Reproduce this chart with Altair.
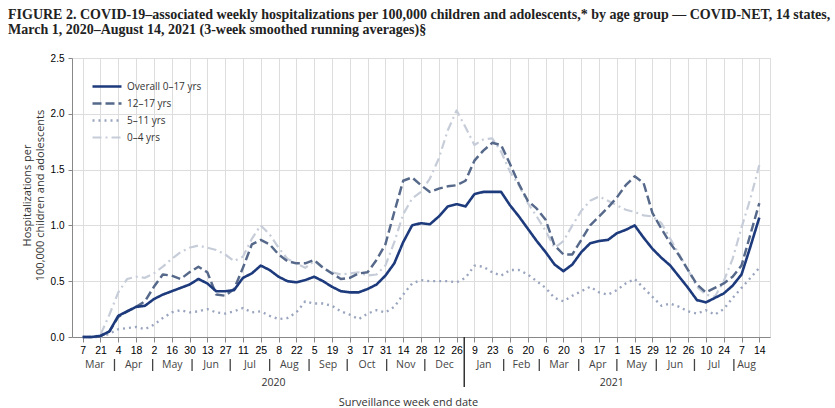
import altair as alt
import pandas as pd

# Biweekly tick labels (week-ending day of month), 7 Mar 2020 ... 14 Aug 2021
tick_labels = ["7", "21", "4", "18", "2", "16", "30", "13", "27", "11", "25", "8", "22",
               "5", "19", "3", "17", "31", "14", "28", "12", "26",
               "9", "23", "6", "20", "6", "20", "3", "17", "1", "15", "29", "12", "26",
               "10", "24", "7", "14"]

# Weekly rates per 100,000 (3-week smoothed), one value per week
overall = [0.00, 0.00, 0.01, 0.05, 0.19, 0.23, 0.27, 0.28, 0.34, 0.38,
           0.41, 0.44, 0.47, 0.52, 0.48, 0.41, 0.41, 0.42, 0.53, 0.57,
           0.64, 0.60, 0.54, 0.50, 0.49, 0.51, 0.54, 0.50, 0.45, 0.41,
           0.40, 0.40, 0.43, 0.47, 0.55, 0.66, 0.85, 1.00, 1.02, 1.01,
           1.08, 1.17, 1.19, 1.17, 1.28, 1.30, 1.30, 1.30, 1.18, 1.08,
           0.97, 0.86, 0.76, 0.65, 0.59, 0.65, 0.76, 0.84, 0.86, 0.87,
           0.93, 0.96, 1.00, 0.89, 0.79, 0.71, 0.64, 0.54, 0.44, 0.33,
           0.31, 0.35, 0.39, 0.46, 0.56, 0.81, 1.07]
age_12_17 = [0.00, 0.00, 0.01, 0.05, 0.18, 0.23, 0.27, 0.32, 0.45, 0.56,
             0.55, 0.52, 0.58, 0.63, 0.58, 0.38, 0.37, 0.43, 0.62, 0.83,
             0.87, 0.83, 0.74, 0.68, 0.66, 0.66, 0.69, 0.62, 0.57, 0.52,
             0.53, 0.57, 0.58, 0.69, 0.83, 1.12, 1.40, 1.43, 1.36, 1.30,
             1.33, 1.35, 1.36, 1.40, 1.58, 1.67, 1.74, 1.72, 1.55, 1.37,
             1.22, 1.15, 1.05, 0.82, 0.74, 0.74, 0.87, 1.00, 1.08, 1.16,
             1.25, 1.36, 1.44, 1.38, 1.11, 0.97, 0.84, 0.73, 0.60, 0.47,
             0.40, 0.44, 0.48, 0.54, 0.64, 0.92, 1.20]
age_5_11 = [0.00, 0.00, 0.00, 0.03, 0.07, 0.08, 0.09, 0.07, 0.11, 0.17,
            0.22, 0.24, 0.22, 0.23, 0.25, 0.22, 0.21, 0.23, 0.26, 0.22,
            0.23, 0.19, 0.16, 0.17, 0.22, 0.32, 0.30, 0.30, 0.28, 0.23,
            0.20, 0.16, 0.21, 0.24, 0.22, 0.27, 0.38, 0.48, 0.51, 0.50,
            0.50, 0.50, 0.49, 0.53, 0.64, 0.63, 0.58, 0.55, 0.60, 0.60,
            0.56, 0.50, 0.44, 0.35, 0.32, 0.37, 0.41, 0.45, 0.40, 0.38,
            0.42, 0.48, 0.52, 0.44, 0.36, 0.28, 0.30, 0.27, 0.23, 0.21,
            0.24, 0.20, 0.25, 0.35, 0.44, 0.53, 0.62]
age_0_4 = [0.00, 0.00, 0.02, 0.20, 0.40, 0.52, 0.54, 0.53, 0.57, 0.63,
           0.70, 0.76, 0.80, 0.82, 0.80, 0.78, 0.74, 0.68, 0.72, 0.88,
           1.00, 0.92, 0.80, 0.70, 0.66, 0.62, 0.68, 0.62, 0.58, 0.56,
           0.57, 0.58, 0.55, 0.56, 0.64, 0.85, 1.10, 1.24, 1.30, 1.42,
           1.60, 1.85, 2.03, 1.88, 1.72, 1.77, 1.78, 1.66, 1.48, 1.36,
           1.20, 1.08, 0.95, 0.80, 0.86, 1.00, 1.13, 1.22, 1.26, 1.22,
           1.18, 1.14, 1.12, 1.09, 1.08, 1.02, 0.88, 0.74, 0.60, 0.45,
           0.38, 0.36, 0.50, 0.70, 0.98, 1.24, 1.54]

series_names = ["Overall 0–17 yrs", "12–17 yrs", "5–11 yrs", "0–4 yrs"]
series_values = [overall, age_12_17, age_5_11, age_0_4]
series_colors = ["#1d3a7c", "#56698a", "#99a4be", "#c6cdd9"]
series_dashes = [[1, 0], [9, 4], [2, 4], [9, 4, 2, 4]]
series_widths = [2.6, 2.2, 2.2, 1.8]

FONT = "Open Sans"
TITLE_FONT = "Liberation Serif"
W, H = 698, 279

# Long-form table; lighter series first so the overall line is drawn on top
rows = []
for name, vals in reversed(list(zip(series_names, series_values))):
    for wk, v in enumerate(vals):
        rows.append({"series": name, "week": wk, "rate": v})
df = pd.DataFrame(rows)

last_week = len(overall) - 1
tick_weeks = list(range(0, 2 * len(tick_labels), 2))
label_expr = "[" + ",".join(f"'{t}'" for t in tick_labels) + "][round(datum.value / 2)]"

# Calendar rows under the axis: month names, month separators, years
start = pd.Timestamp("2020-03-07")


def week_of(d):
    return (pd.Timestamp(d) - start).days / 7


month_starts = pd.date_range("2020-03-01", "2021-09-01", freq="MS")
months = []
for a, b in zip(month_starts[:-1], month_starts[1:]):
    lo, hi = week_of(a), min(week_of(b), last_week)
    months.append({"label": a.strftime("%b"), "pos": (lo + hi) / 2})
months_df = pd.DataFrame(months)
seps_df = pd.DataFrame({"pos": [week_of(d) for d in month_starts[1:-1]
                                if not (d.month == 1)]})
year_break = week_of("2021-01-01")
years_df = pd.DataFrame({"label": ["2020", "2021"],
                         "pos": [year_break / 2, (year_break + last_week) / 2]})
divider_df = pd.DataFrame({"pos": [year_break]})

x_scale = alt.Scale(domain=[-1.2, 77.2], nice=False, zero=False)
x_axis = alt.Axis(values=tick_weeks, labelExpr=label_expr,
                  title="Surveillance week end date", titleX=336, titleY=65,
                  titleBaseline="middle", titleFontWeight="normal",
                  titleFontSize=11, titleColor="#333", titleFont=FONT,
                  tickSize=5, labelPadding=3, labelFontSize=10.5,
                  labelFlush=False, labelOverlap=False)

legend = alt.Legend(title=None, orient="none", legendX=19, legendY=20,
                    symbolType="stroke", symbolSize=841, symbolStrokeWidth=2.4,
                    clipHeight=17, rowPadding=0, labelFont=FONT, labelFontSize=10,
                    labelColor="#333", labelOffset=4)

lines = alt.Chart(df).mark_line(strokeJoin="round").encode(
    x=alt.X("week:Q", scale=x_scale, axis=x_axis),
    y=alt.Y("rate:Q", scale=alt.Scale(domain=[0, 2.5], nice=False),
            axis=alt.Axis(values=[0, 0.5, 1, 1.5, 2, 2.5], format=".1f",
                          title=["Hospitalizations per", "100,000 children and adolescents"],
                          titleX=-45, titleY=137, titleBaseline="middle",
                          titleAlign="center", titleFontWeight="normal",
                          titleFontSize=11, titleColor="#333", titleFont=FONT,
                          tickSize=4, labelPadding=4, labelFontSize=10)),
    color=alt.Color("series:N", scale=alt.Scale(domain=series_names, range=series_colors),
                    legend=legend),
    strokeDash=alt.StrokeDash("series:N",
                              scale=alt.Scale(domain=series_names, range=series_dashes),
                              legend=legend),
    strokeWidth=alt.StrokeWidth("series:N",
                                scale=alt.Scale(domain=series_names, range=series_widths),
                                legend=None),
)

month_text = alt.Chart(months_df).mark_text(font=FONT, fontSize=10.5, color="#444",
                                            baseline="middle").encode(
    x=alt.X("pos:Q", scale=x_scale, axis=x_axis),
    y=alt.value(H + 28),
    text="label:N",
)
month_seps = alt.Chart(seps_df).mark_rule(color="#444", strokeWidth=1.3).encode(
    x=alt.X("pos:Q", scale=x_scale, axis=x_axis),
    y=alt.value(H + 22),
    y2=alt.value(H + 34),
)
year_text = alt.Chart(years_df).mark_text(font=FONT, fontSize=10.5, color="#333",
                                          baseline="middle").encode(
    x=alt.X("pos:Q", scale=x_scale, axis=x_axis),
    y=alt.value(H + 46),
    text="label:N",
)
year_rule = alt.Chart(divider_df).mark_rule(color="#333", strokeWidth=1.5).encode(
    x=alt.X("pos:Q", scale=x_scale, axis=x_axis),
    y=alt.value(H),
    y2=alt.value(H + 50),
)

chart = alt.layer(lines, month_seps, month_text, year_rule, year_text).properties(
    width=W, height=H,
    title=alt.Title(
        text=["FIGURE 2. COVID-19–associated weekly hospitalizations per 100,000 children "
              "and adolescents,* by age group — COVID-NET, 14 states,",
              "March 1, 2020–August 14, 2021 (3-week smoothed running averages)§"],
        anchor="start", frame="group", dx=-64, offset=16, font=TITLE_FONT,
        fontSize=14, fontWeight="bold", color="#222", lineHeight=15),
    autosize=alt.AutoSizeParams(type="none"),
    padding={"left": 72, "top": 58, "right": 65, "bottom": 71},
).configure_view(
    stroke="#4a4a4a", strokeWidth=1.3
).configure_axis(
    grid=False, domainColor="#333", domainWidth=1.3, tickColor="#333",
    labelColor="#444", labelFont=FONT,
).configure(background="white")

chart.save("out.html", embed_options={"renderer": "svg", "actions": False})
